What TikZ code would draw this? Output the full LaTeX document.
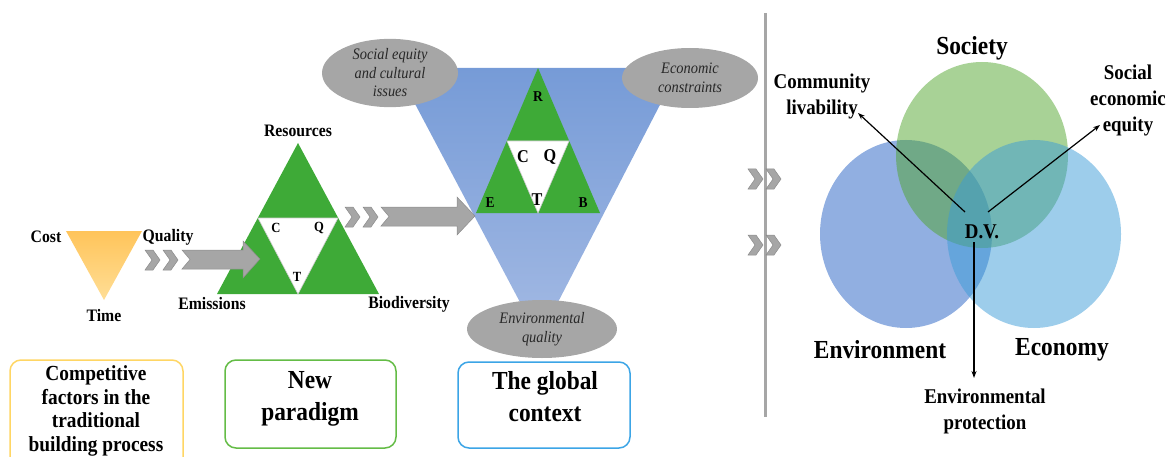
\documentclass[tikz,border=0pt]{standalone}
\usepackage{fontspec}
\setmainfont{Liberation Serif}[FakeStretch=0.9]
\usetikzlibrary{arrows.meta,shapes.geometric}
\definecolor{orTop}{RGB}{255,196,90}
\definecolor{orBot}{RGB}{255,222,150}
\definecolor{bluTop}{RGB}{118,155,215}
\definecolor{bluBot}{RGB}{158,182,226}
\definecolor{tgreen}{RGB}{62,170,55}
\definecolor{agray}{RGB}{166,166,166}
\definecolor{agrayd}{RGB}{140,140,140}
\definecolor{egray}{RGB}{166,166,166}
\definecolor{etext}{RGB}{40,40,40}
\definecolor{bxY}{RGB}{255,214,100}
\definecolor{bxG}{RGB}{100,188,70}
\definecolor{bxB}{RGB}{60,165,230}
\definecolor{cEnv}{RGB}{35,95,195}
\definecolor{cSoc}{RGB}{81,165,45}
\definecolor{cEco}{RGB}{59,155,215}
\begin{document}
\begin{tikzpicture}[x=1pt,y=-1pt,
  lab/.style={font=\fontsize{17.5}{19}\selectfont\bfseries, inner sep=0},
  tri/.style={font=\fontsize{14}{16}\selectfont\bfseries, inner sep=0},
  trib/.style={font=\fontsize{18}{20}\selectfont\bfseries, inner sep=0},
  tris/.style={font=\fontsize{15}{17}\selectfont\bfseries, inner sep=0},
  ell/.style={ellipse, fill=egray, inner sep=0, text=etext, align=center,
     font=\fontsize{16}{18.5}\selectfont\itshape},
  box/.style={draw, line width=1.5pt, rounded corners=11pt},
  boxtxt/.style={align=center, inner sep=0, font=\fontsize{26}{32}\selectfont\bfseries},
  rlab/.style={align=center, inner sep=0, font=\fontsize{21}{26}\selectfont\bfseries},
  big/.style={inner sep=0, font=\fontsize{26}{28}\selectfont\bfseries},
  grayarrow/.style={fill=agray, draw=agrayd, line width=0.5pt},
  venn/.style={fill opacity=0.5},
  dvarrow/.style={-{Stealth[length=7pt,width=5pt]}, line width=1.2pt},
  chev/.pic={\path[grayarrow] (0,-10)--(8,-10)--(15,0)--(8,10)--(0,10)--(7,0)--cycle;}
]
\useasboundingbox (0,0) rectangle (1174,457);

% ---------- Traditional triangle ----------
\shade[top color=orTop, bottom color=orBot] (66,231)--(142,231)--(104,300)--cycle;
\node[lab] (cost) at (46,237) {Cost};
\node[lab] (quality) at (168,237) {Quality};
\node[lab] (time) at (104,316) {Time};

% ---------- New paradigm triangle ----------
\fill[tgreen] (298,143)--(379,294)--(217,294)--cycle;
\filldraw[fill=white, draw=gray!40, line width=0.6pt] (258,218)--(338,218)--(298,294)--cycle;
\node[lab] (res) at (298,131) {Resources};
\node[tri] (c1) at (276,228) {C};
\node[tri] (q1) at (319,228) {Q};
\node[tri] (t1) at (297,277) {T};
\node[lab] (emi) at (212,304) {Emissions};
\node[lab] (bio) at (409,304) {Biodiversity};

% chevrons + arrow 1
\pic at (145,260) {chev};
\pic at (163,260) {chev};
\path[grayarrow] (182,250)--(243,250)--(243,241)--(260,259)--(243,278)--(243,269)--(182,269)--(190,259.5)--cycle;

% ---------- Global context funnel ----------
\shade[top color=bluTop, bottom color=bluBot] (396,68)--(679,68)--(556,306)--(522,306)--cycle;
\fill[tgreen] (538,68)--(600,213)--(476,213)--cycle;
\filldraw[fill=white, draw=gray!40, line width=0.6pt] (507,141)--(569,141)--(538,213)--cycle;
\node[tris] (r2) at (538,97) {R};
\node[trib] (c2) at (523,157) {C};
\node[trib] (q2) at (550,157) {Q};
\node[trib] (t2) at (537,200) {T};
\node[tris] (e2) at (490,203) {E};
\node[tris] (b2) at (583,203) {B};

\node[ell, minimum width=136, minimum height=60] (seq) at (390,73) {Social equity\\and cultural\\issues};
\node[ell, minimum width=136, minimum height=60] (eco) at (690,78) {Economic\\constraints};
\node[ell, minimum width=150, minimum height=58] (envq) at (542,329) {Environmental\\quality};

% chevrons + arrow 2
\pic at (345,217) {chev};
\pic at (363,217) {chev};
\path[grayarrow] (381,207)--(457,207)--(457,197)--(475,216)--(457,235)--(457,226)--(381,226)--(389,216.5)--cycle;

% ---------- Bottom boxes ----------
\draw[box, draw=bxY] (10,360) rectangle (183,475);
\node[align=center, inner sep=0, font=\fontsize{21.5}{23.5}\selectfont\bfseries] (tb1) at (96,411) {Competitive\\factors in the\\traditional\\building process};
\draw[box, draw=bxG] (225,360) rectangle (396,448);
\node[boxtxt] (tb2) at (310,399) {New\\paradigm};
\draw[box, draw=bxB] (458,362) rectangle (630,448);
\node[boxtxt] (tb3) at (545,397) {The global\\context};

% ---------- Separator ----------
\draw[agray, line width=3pt] (765,13) -- (765,417);
\pic at (748,179) {chev};
\pic at (766,179) {chev};
\pic at (748,245) {chev};
\pic at (766,245) {chev};

% ---------- Venn ----------
\fill[cEnv, venn] (906,234) ellipse [x radius=86, y radius=94];
\fill[cSoc, venn] (982,155) ellipse [x radius=86, y radius=93];
\fill[cEco, venn] (1034,234) ellipse [x radius=87, y radius=94];

\node[big] (soc) at (972,48) {Society};
\node[big] (env) at (880,350) {Environment};
\node[big] (econ) at (1062,350) {Economy};

\node[inner sep=0, font=\fontsize{21}{24}\selectfont\bfseries] (dv) at (982,232) {D.V.};
\node[rlab] (cl) at (822,96) {Community\\livability};
\node[rlab] (see) at (1128,100) {Social\\economic\\equity};
\node[rlab] (ep) at (985,411) {Environmental\\protection};

\coordinate (dvA) at (965,212);
\coordinate (dvB) at (988,212);
\coordinate (dvC) at (974,242);
\coordinate (clEnd) at (858,113);
\coordinate (seeEnd) at (1100,125);
\coordinate (epEnd) at (974,378);
\draw[dvarrow] (dvA) -- (clEnd);
\draw[dvarrow] (dvB) -- (seeEnd);
\draw[dvarrow] (dvC) -- (epEnd);
\end{tikzpicture}
\end{document}
